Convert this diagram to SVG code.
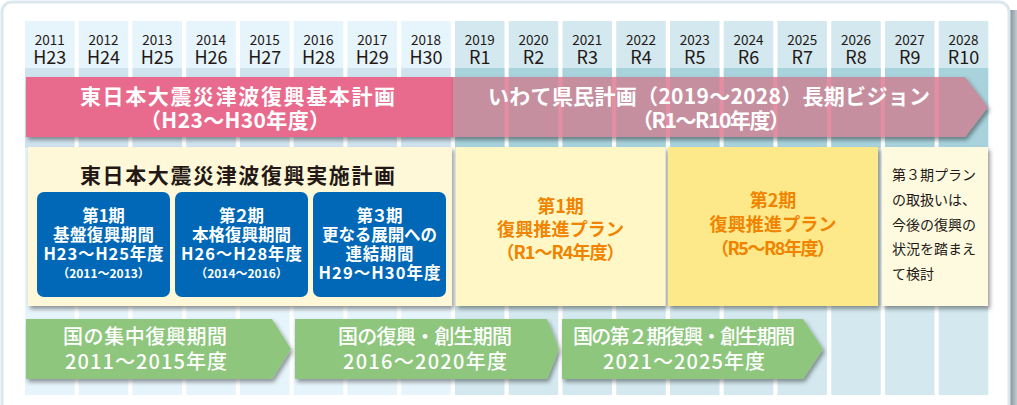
<svg xmlns="http://www.w3.org/2000/svg" width="1017" height="405" viewBox="0 0 1017 405">
<defs>
<style>
.yr{font-family:"Noto Sans CJK JP","Noto Sans",sans-serif;font-size:13.5px;fill:#231815;text-anchor:middle}
.era{font-family:"Noto Sans CJK JP","Noto Sans",sans-serif;font-size:18px;fill:#231815;text-anchor:middle}
.cH{fill:#e6f4fb}
.cR{fill:#d3e9ef}
.bH{fill:#cfe3ef}
.bR{fill:#a8d3dc}
.wt{font-family:"Noto Sans CJK JP",sans-serif;font-weight:bold;fill:#ffffff;font-size:21px}
.blk{font-family:"Noto Sans CJK JP",sans-serif;font-weight:bold;fill:#231815;font-size:21px}
.bl{fill:#0068b7}
.bx{font-family:"Noto Sans CJK JP",sans-serif;font-weight:bold;fill:#ffffff;font-size:16.5px;text-anchor:middle}
.sm{font-family:"Noto Sans CJK JP",sans-serif;font-weight:bold;fill:#ffffff;font-size:12px;text-anchor:middle}
.or{font-family:"Noto Sans CJK JP",sans-serif;font-weight:bold;fill:#f08300;font-size:18px;text-anchor:middle}
.nt{font-family:"Noto Sans CJK JP",sans-serif;fill:#231815;font-size:14px}
.gr{fill:#8dc67b}
.gt{font-family:"Noto Sans CJK JP",sans-serif;font-weight:500;fill:#ffffff;font-size:20px}
</style>
<filter id="sh" x="-5%" y="-10%" width="115%" height="135%"><feDropShadow dx="2" dy="3" stdDeviation="2" flood-color="#000" flood-opacity="0.4"/></filter>
<linearGradient id="rs" x1="0" x2="1" y1="0" y2="0"><stop offset="0" stop-color="#7f8b91"/><stop offset="1" stop-color="#c3cbcf"/></linearGradient>
<clipPath id="rclip"><polygon points="453,77 965,77 988,107 965,137 453,137"/></clipPath>
</defs>

<rect x="0" y="0" width="1017" height="405" fill="#ffffff"/>
<rect x="1009" y="10" width="8" height="400" fill="url(#rs)"/>
<rect x="2" y="2" width="1007" height="420" rx="10" fill="#ffffff" stroke="#dbe7ee" stroke-width="3"/>

<g id="columns">
<rect class="cH" x="25" y="21" width="49.5" height="374"/>
<rect class="cH" x="78.75" y="21" width="49.5" height="374"/>
<rect class="cH" x="132.5" y="21" width="49.5" height="374"/>
<rect class="cH" x="186.25" y="21" width="49.5" height="374"/>
<rect class="cH" x="240" y="21" width="49.5" height="374"/>
<rect class="cH" x="293.75" y="21" width="49.5" height="374"/>
<rect class="cH" x="347.5" y="21" width="49.5" height="374"/>
<rect class="cH" x="401.25" y="21" width="49.5" height="374"/>
<rect class="cR" x="455" y="21" width="49.5" height="374"/>
<rect class="cR" x="508.75" y="21" width="49.5" height="374"/>
<rect class="cR" x="562.5" y="21" width="49.5" height="374"/>
<rect class="cR" x="616.25" y="21" width="49.5" height="374"/>
<rect class="cR" x="670" y="21" width="49.5" height="374"/>
<rect class="cR" x="723.75" y="21" width="49.5" height="374"/>
<rect class="cR" x="777.5" y="21" width="49.5" height="374"/>
<rect class="cR" x="831.25" y="21" width="49.5" height="374"/>
<rect class="cR" x="885" y="21" width="49.5" height="374"/>
<rect class="cR" x="938.75" y="21" width="49.5" height="374"/>
<rect class="bH" x="25" y="68" width="49.5" height="80"/>
<rect class="bH" x="78.75" y="68" width="49.5" height="80"/>
<rect class="bH" x="132.5" y="68" width="49.5" height="80"/>
<rect class="bH" x="186.25" y="68" width="49.5" height="80"/>
<rect class="bH" x="240" y="68" width="49.5" height="80"/>
<rect class="bH" x="293.75" y="68" width="49.5" height="80"/>
<rect class="bH" x="347.5" y="68" width="49.5" height="80"/>
<rect class="bH" x="401.25" y="68" width="49.5" height="80"/>
<rect class="bR" x="455" y="68" width="49.5" height="80"/>
<rect class="bR" x="508.75" y="68" width="49.5" height="80"/>
<rect class="bR" x="562.5" y="68" width="49.5" height="80"/>
<rect class="bR" x="616.25" y="68" width="49.5" height="80"/>
<rect class="bR" x="670" y="68" width="49.5" height="80"/>
<rect class="bR" x="723.75" y="68" width="49.5" height="80"/>
<rect class="bR" x="777.5" y="68" width="49.5" height="80"/>
<rect class="bR" x="831.25" y="68" width="49.5" height="80"/>
<rect class="bR" x="885" y="68" width="49.5" height="80"/>
<rect class="bR" x="938.75" y="68" width="49.5" height="80"/>
<text class="yr" x="49.75" y="45">2011</text><text class="era" x="49.75" y="64">H23</text>
<text class="yr" x="103.5" y="45">2012</text><text class="era" x="103.5" y="64">H24</text>
<text class="yr" x="157.25" y="45">2013</text><text class="era" x="157.25" y="64">H25</text>
<text class="yr" x="211" y="45">2014</text><text class="era" x="211" y="64">H26</text>
<text class="yr" x="264.75" y="45">2015</text><text class="era" x="264.75" y="64">H27</text>
<text class="yr" x="318.5" y="45">2016</text><text class="era" x="318.5" y="64">H28</text>
<text class="yr" x="372.25" y="45">2017</text><text class="era" x="372.25" y="64">H29</text>
<text class="yr" x="426" y="45">2018</text><text class="era" x="426" y="64">H30</text>
<text class="yr" x="479.75" y="45">2019</text><text class="era" x="479.75" y="64">R1</text>
<text class="yr" x="533.5" y="45">2020</text><text class="era" x="533.5" y="64">R2</text>
<text class="yr" x="587.25" y="45">2021</text><text class="era" x="587.25" y="64">R3</text>
<text class="yr" x="641" y="45">2022</text><text class="era" x="641" y="64">R4</text>
<text class="yr" x="694.75" y="45">2023</text><text class="era" x="694.75" y="64">R5</text>
<text class="yr" x="748.5" y="45">2024</text><text class="era" x="748.5" y="64">R6</text>
<text class="yr" x="802.25" y="45">2025</text><text class="era" x="802.25" y="64">R7</text>
<text class="yr" x="856" y="45">2026</text><text class="era" x="856" y="64">R8</text>
<text class="yr" x="909.75" y="45">2027</text><text class="era" x="909.75" y="64">R9</text>
<text class="yr" x="963.5" y="45">2028</text><text class="era" x="963.5" y="64">R10</text>
</g>

<g id="banner-h">
<rect x="26" y="77" width="427" height="60" fill="#e86b8c" filter="url(#sh)"/>
<text class="wt" x="80" y="104" textLength="315" lengthAdjust="spacing">東日本大震災津波復興基本計画</text>
<text class="wt" x="140" y="128" textLength="190" lengthAdjust="spacing">（H23～H30年度）</text>
</g>

<g id="banner-r">
<polygon points="453,77 965,77 988,107 965,137 453,137" fill="#c58fa0" filter="url(#sh)"/>
<g clip-path="url(#rclip)" fill="#e48ea3">
<rect x="504.5" y="77" width="4.25" height="60"/>
<rect x="558.25" y="77" width="4.25" height="60"/>
<rect x="612" y="77" width="4.25" height="60"/>
<rect x="665.75" y="77" width="4.25" height="60"/>
<rect x="719.5" y="77" width="4.25" height="60"/>
<rect x="773.25" y="77" width="4.25" height="60"/>
<rect x="827" y="77" width="4.25" height="60"/>
<rect x="880.75" y="77" width="4.25" height="60"/>
<rect x="934.5" y="77" width="4.25" height="60"/>
</g>
<text class="wt" x="488" y="104" textLength="442" lengthAdjust="spacing">いわて県民計画（2019～2028）長期ビジョン</text>
<text class="wt" x="632" y="128" textLength="158" lengthAdjust="spacing">（R1～R10年度）</text>
</g>

<g id="jisshi-plan">
<rect x="28" y="147" width="424" height="159" fill="#fef8d9" filter="url(#sh)"/>
<text class="blk" x="80" y="183" textLength="315" lengthAdjust="spacing">東日本大震災津波復興実施計画</text>
</g>

<g id="phase1">
<rect class="bl" x="37" y="192" width="133" height="105" rx="7"/>
<text class="bx" x="103.5" y="222">第1期</text>
<text class="bx" x="103.5" y="241" textLength="101">基盤復興期間</text>
<text class="bx" x="103.5" y="260" textLength="120">H23～H25年度</text>
<text class="sm" x="103.5" y="278">（2011～2013）</text>
</g>

<g id="phase2">
<rect class="bl" x="175" y="192" width="133" height="105" rx="7"/>
<text class="bx" x="241.5" y="222" textLength="45">第２期</text>
<text class="bx" x="241.5" y="241" textLength="99">本格復興期間</text>
<text class="bx" x="241.5" y="260" textLength="121">H26～H28年度</text>
<text class="sm" x="241.5" y="278">（2014～2016）</text>
</g>

<g id="phase3">
<rect class="bl" x="313" y="192" width="133" height="105" rx="7"/>
<text class="bx" x="379.5" y="222" textLength="46">第３期</text>
<text class="bx" x="379.5" y="241" textLength="115">更なる展開への</text>
<text class="bx" x="379.5" y="260" textLength="68">連結期間</text>
<text class="bx" x="379.5" y="279" textLength="122">H29～H30年度</text>
</g>

<g id="suishin1">
<rect x="455.5" y="147" width="210" height="159" fill="#fff8c6" filter="url(#sh)"/>
<text class="or" x="560.5" y="213">第1期</text>
<text class="or" x="560.5" y="236" textLength="127">復興推進プラン</text>
<text class="or" x="560.5" y="259" textLength="128">（R1～R4年度）</text>
</g>

<g id="suishin2">
<rect x="668" y="147" width="210" height="159" fill="#fee98a" filter="url(#sh)"/>
<text class="or" x="773" y="207">第2期</text>
<text class="or" x="773" y="231" textLength="127">復興推進プラン</text>
<text class="or" x="773" y="255" textLength="124">（R5～R8年度）</text>
</g>

<g id="suishin3">
<rect x="882" y="147" width="106" height="159" fill="#fefadf" filter="url(#sh)"/>
<text class="nt" x="892" y="180">第３期プラン</text>
<text class="nt" x="892" y="205">の取扱いは、</text>
<text class="nt" x="892" y="229.5">今後の復興の</text>
<text class="nt" x="892" y="254">状況を踏まえ</text>
<text class="nt" x="892" y="279">て検討</text>
</g>

<g id="national1">
<polygon class="gr" points="26,319 272,319 291,349 272,379 26,379" filter="url(#sh)"/>
<text class="gt" x="63" y="344" textLength="164" lengthAdjust="spacing">国の集中復興期間</text>
<text class="gt" x="65" y="369" textLength="162" lengthAdjust="spacing">2011～2015年度</text>
</g>

<g id="national2">
<polygon class="gr" points="295,319 547,319 559,349 547,379 295,379" filter="url(#sh)"/>
<text class="gt" x="338" y="344" textLength="174" lengthAdjust="spacing">国の復興・創生期間</text>
<text class="gt" x="343" y="369" textLength="164" lengthAdjust="spacing">2016～2020年度</text>
</g>

<g id="national3">
<polygon class="gr" points="562,319 803,319 823,349 803,379 562,379" filter="url(#sh)"/>
<text class="gt" x="573" y="344" textLength="222" lengthAdjust="spacing">国の第２期復興・創生期間</text>
<text class="gt" x="603" y="369" textLength="162" lengthAdjust="spacing">2021～2025年度</text>
</g>

<g id="connectors"></g>
</svg>
